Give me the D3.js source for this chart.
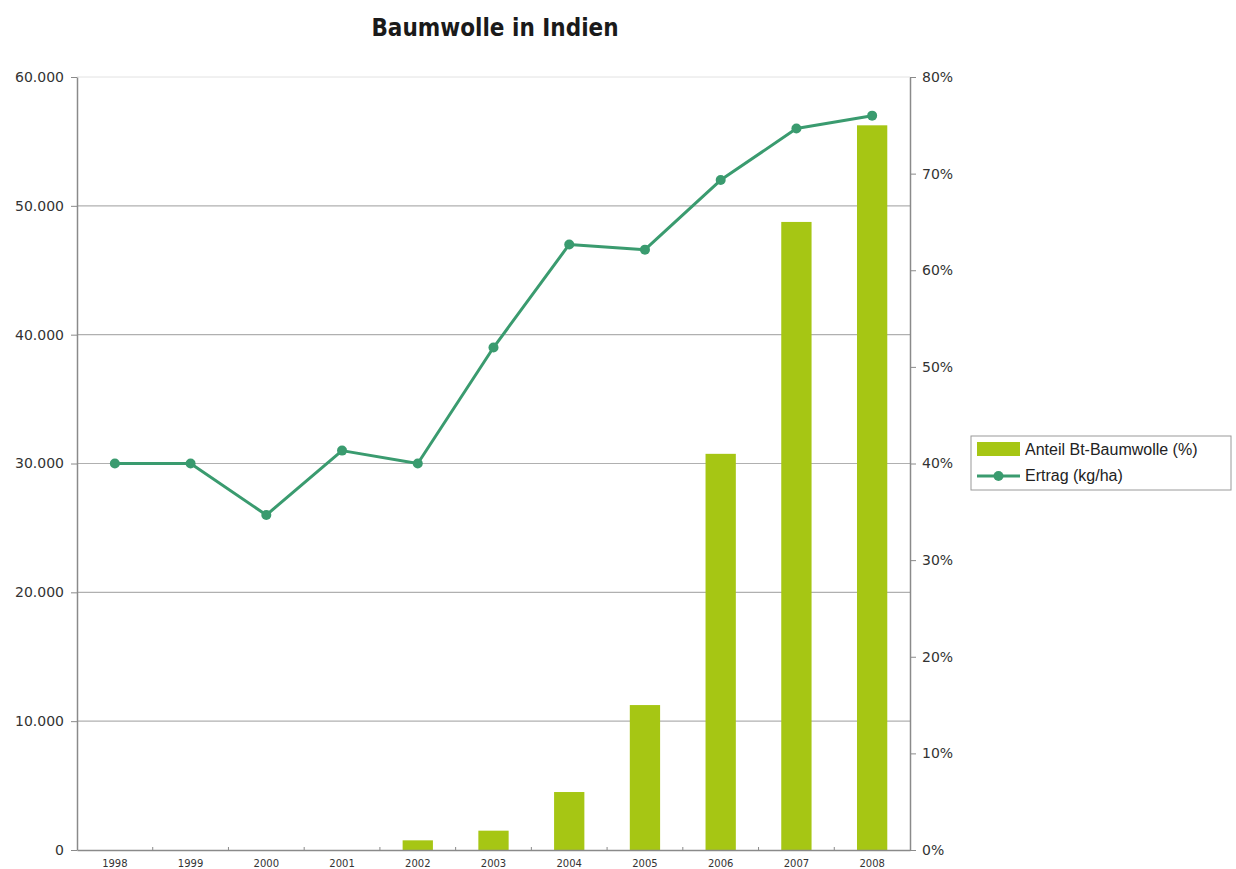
<!DOCTYPE html>
<html>
<head>
<meta charset="utf-8">
<script src="https://cdn.jsdelivr.net/npm/d3@7"></script>
<style>
	body { margin: 0; background: #fff; }
	svg { display: block; }
</style>
</head>
<body>
<svg></svg>
<script>
'use strict';

const years = ['1998', '1999', '2000', '2001', '2002', '2003', '2004', '2005', '2006', '2007', '2008'];
// Anteil Bt-Baumwolle (%), right axis
const btShare = [0, 0, 0, 0, 1, 2, 6, 15, 41, 65, 75];
// Ertrag (kg/ha), left axis
const yieldVals = [30000, 30000, 26000, 31000, 30000, 39000, 47000, 46600, 52000, 56000, 57000];
const leftTicks = [0, 10000, 20000, 30000, 40000, 50000, 60000];
const rightTicks = [0, 10, 20, 30, 40, 50, 60, 70, 80];

const opts = {
	width: 1236,
	height: 869,
	left: 77,
	right: 910,
	top: 77,
	bottom: 850,
	barColor: '#a6c614',
	lineColor: '#3a9b6f',
	gridColor: '#b0b0b0',
	axisColor: '#8a8a8a'
};

const svg = d3.select('svg')
	.attr('width', opts.width)
	.attr('height', opts.height);

const x = d3.scaleBand()
	.domain(years)
	.range([opts.left, opts.right]);

const yLeft = d3.scaleLinear()
	.domain([0, 60000])
	.range([opts.bottom, opts.top]);

const yRight = d3.scaleLinear()
	.domain([0, 80])
	.range([opts.bottom, opts.top]);

const fmtThousands = (v) => v === 0 ? '0' : d3.format(',')(v).replace(/,/g, '.');

// top frame line
svg.append('line')
	.attr('x1', opts.left).attr('x2', opts.right)
	.attr('y1', opts.top).attr('y2', opts.top)
	.attr('stroke', '#e2e2e2');

// gridlines
svg.append('g')
	.selectAll('line')
	.data(leftTicks.filter((t) => t > 0 && t < 60000))
	.join('line')
	.attr('x1', opts.left).attr('x2', opts.right)
	.attr('y1', (d) => yLeft(d)).attr('y2', (d) => yLeft(d))
	.attr('stroke', opts.gridColor)
	.attr('stroke-width', 1.2);

// bars
const barW = x.bandwidth() * 0.4;
svg.append('g')
	.selectAll('rect')
	.data(years.map((yr, i) => ({ yr, v: btShare[i] })).filter((d) => d.v > 0))
	.join('rect')
	.attr('x', (d) => x(d.yr) + (x.bandwidth() - barW) / 2)
	.attr('y', (d) => yRight(d.v))
	.attr('width', barW)
	.attr('height', (d) => opts.bottom - yRight(d.v))
	.attr('fill', opts.barColor);

// left axis
const leftAxis = svg.append('g')
	.attr('transform', `translate(${opts.left},0)`)
	.call(d3.axisLeft(yLeft).tickValues(leftTicks).tickFormat(fmtThousands).tickSize(6).tickSizeOuter(0));

// right axis
const rightAxis = svg.append('g')
	.attr('transform', `translate(${opts.right},0)`)
	.call(d3.axisRight(yRight).tickValues(rightTicks).tickFormat((d) => d + '%').tickSize(6).tickSizeOuter(0));

[leftAxis, rightAxis].forEach((ax) => {
	ax.select('.domain').attr('stroke', opts.axisColor).attr('stroke-width', 1.5);
	ax.selectAll('.tick line').attr('stroke', opts.axisColor);
	ax.selectAll('.tick text')
		.attr('fill', '#333')
		.style('font-family', '"DejaVu Sans", sans-serif')
		.style('font-size', '14px');
});
leftAxis.selectAll('.tick text').attr('x', -13);
rightAxis.selectAll('.tick text').attr('x', 12);

// bottom axis
const bottomAxis = svg.append('g')
	.attr('transform', `translate(0,${opts.bottom})`)
	.call(d3.axisBottom(x).tickSize(0).tickSizeOuter(0));
bottomAxis.select('.domain').attr('stroke', opts.axisColor).attr('stroke-width', 1.5);
bottomAxis.selectAll('.tick text')
	.attr('y', 10)
	.attr('fill', '#333')
	.style('font-family', '"DejaVu Sans", sans-serif')
	.style('font-size', '10px');

// boundary tick marks between categories
svg.append('g')
	.selectAll('line')
	.data(years.slice(1))
	.join('line')
	.attr('x1', (d) => x(d)).attr('x2', (d) => x(d))
	.attr('y1', opts.bottom - 3).attr('y2', opts.bottom + 1)
	.attr('stroke', opts.axisColor);

// line
const pts = years.map((yr, i) => ({ yr, v: yieldVals[i] }));
svg.append('path')
	.datum(pts)
	.attr('fill', 'none')
	.attr('stroke', opts.lineColor)
	.attr('stroke-width', 3)
	.attr('stroke-linejoin', 'round')
	.attr('d', d3.line()
		.x((d) => x(d.yr) + x.bandwidth() / 2)
		.y((d) => yLeft(d.v)));

svg.append('g')
	.selectAll('circle')
	.data(pts)
	.join('circle')
	.attr('cx', (d) => x(d.yr) + x.bandwidth() / 2)
	.attr('cy', (d) => yLeft(d.v))
	.attr('r', 5)
	.attr('fill', opts.lineColor);

// title
svg.append('text')
	.text('Baumwolle in Indien')
	.attr('x', 495)
	.attr('y', 36)
	.attr('text-anchor', 'middle')
	.attr('fill', '#1a1a1a')
	.style('font-family', '"DejaVu Sans Condensed", "DejaVu Sans", sans-serif')
	.style('font-weight', 'bold')
	.style('font-size', '24px');

// legend
const lg = svg.append('g').attr('transform', 'translate(971,436)');
lg.append('rect')
	.attr('width', 260).attr('height', 54)
	.attr('fill', '#fff')
	.attr('stroke', '#9a9a9a');
lg.append('rect')
	.attr('x', 6).attr('y', 6).attr('width', 43).attr('height', 14)
	.attr('fill', opts.barColor);
lg.append('line')
	.attr('x1', 6).attr('x2', 49).attr('y1', 40).attr('y2', 40)
	.attr('stroke', opts.lineColor).attr('stroke-width', 3);
lg.append('circle')
	.attr('cx', 27.5).attr('cy', 40).attr('r', 5)
	.attr('fill', opts.lineColor);
lg.selectAll('text.lbl')
	.data(['Anteil Bt-Baumwolle (%)', 'Ertrag (kg/ha)'])
	.join('text')
	.attr('class', 'lbl')
	.text((d) => d)
	.attr('x', 54)
	.attr('y', (d, i) => 19 + i * 26)
	.attr('fill', '#222')
	.style('font-family', '"Liberation Sans", Arial, sans-serif')
	.style('font-size', '16px');
</script>
</body>
</html>
